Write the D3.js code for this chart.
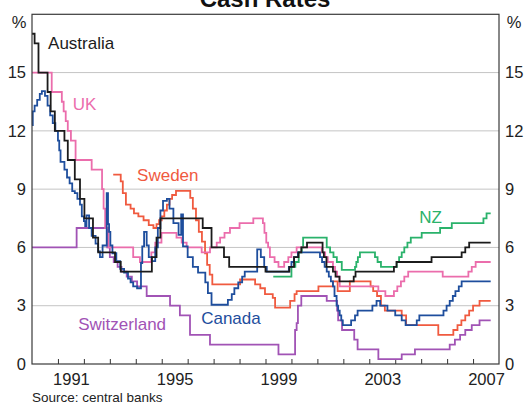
<!DOCTYPE html>
<html>
<head>
<meta charset="utf-8">
<script src="https://cdnjs.cloudflare.com/ajax/libs/d3/7.8.5/d3.min.js"></script>
<style>
  body { margin: 0; background: #fff; }
  svg { font-family: "Liberation Sans", Arial, sans-serif; display: block; }
</style>
</head>
<body>
<div id="chart"></div>
<script>
// cash rates, each entry = [decimal year, rate %] where the rate changes
const australia = [[1990.0,17.0],[1990.1,16.5],[1990.25,15],[1990.6,14],[1990.72,13],[1990.88,12],[1991.25,11.5],[1991.38,10.5],
  [1991.65,9.5],[1991.85,8.5],[1992.02,7.5],[1992.35,6.5],[1992.55,5.75],[1993.2,5.25],[1993.42,4.75],[1994.62,5.5],
  [1994.8,6.5],[1994.95,7.5],[1996.58,7.0],[1996.92,6.0],[1997.4,5.5],[1997.6,5.0],[1999.0,4.75],[1999.92,5.0],
  [2000.1,5.5],[2000.27,5.75],[2000.38,6.0],[2000.6,6.25],[2001.2,5.75],[2001.25,5.5],[2001.35,5.0],[2001.6,4.75],
  [2001.7,4.5],[2001.85,4.25],[2002.4,4.5],[2002.47,4.75],[2003.95,5.0],[2004.05,5.25],[2005.4,5.5],[2006.56,5.75],
  [2006.7,6.0],[2006.85,6.25]];

const uk = [[1990.0,15],[1990.76,14],[1991.15,13.5],[1991.22,13],[1991.3,12.5],[1991.38,12],[1991.5,11.5],[1991.68,10.5],
  [1992.3,10],[1992.7,9],[1992.76,8],[1992.82,7],[1992.95,6],[1993.9,5.5],[1994.16,5.25],[1994.6,5.75],[1994.75,6.25],
  [1994.99,6.75],[1995.57,6.5],[1995.77,6.25],[1995.96,6.0],[1996.54,5.75],[1996.86,6.0],[1997.12,6.25],[1997.25,6.5],
  [1997.42,6.75],[1997.63,7.0],[1998.0,7.25],[1998.53,7.5],[1998.9,7.25],[1998.96,6.75],[1999.03,6.25],[1999.1,6.0],
  [1999.17,5.5],[1999.35,5.25],[1999.5,5.0],[1999.72,5.25],[1999.88,5.5],[2000.0,5.75],[2000.2,6.0],[2001.17,5.75],
  [2001.3,5.5],[2001.4,5.25],[2001.6,5.0],[2001.68,4.75],[2001.76,4.5],[2001.86,4.0],[2003.35,3.75],[2003.62,3.5],
  [2003.95,3.75],[2004.08,4.0],[2004.22,4.25],[2004.35,4.5],[2004.5,4.75],[2005.83,4.5],[2006.82,4.75],[2006.95,5.0],
  [2007.1,5.25]];

const sweden = [[1993.13,9.75],[1993.42,9.4],[1993.5,8.8],[1993.62,8.2],[1993.8,8.0],[1993.93,7.75],[1994.1,7.6],
  [1994.3,7.4],[1994.5,7.15],[1994.68,7.0],[1994.8,7.2],[1994.9,7.4],[1995.0,7.6],[1995.1,7.9],[1995.2,8.2],[1995.3,8.5],
  [1995.4,8.7],[1995.55,8.91],[1996.1,8.55],[1996.2,8.0],[1996.32,7.4],[1996.43,6.8],[1996.55,6.3],[1996.67,5.7],
  [1996.75,5.1],[1996.85,4.6],[1996.95,4.1],[1998.02,4.35],[1998.6,4.1],[1998.8,3.9],[1998.98,3.6],[1999.28,3.4],
  [1999.37,2.9],[1999.95,3.25],[2000.12,3.6],[2000.2,3.75],[2001.04,4.0],[2001.6,4.25],[2001.78,3.75],[2002.25,4.25],
  [2003.05,4.0],[2003.15,3.75],[2003.3,3.5],[2003.45,3.0],[2003.6,2.75],[2004.25,2.5],[2004.42,2.0],[2005.66,1.5],
  [2006.24,1.75],[2006.4,2.0],[2006.55,2.25],[2006.7,2.5],[2006.85,2.75],[2007.0,3.0],[2007.25,3.25]];

const nz = [[1999.3,4.5],[2000.0,5.0],[2000.15,5.25],[2000.28,5.75],[2000.4,6.0],[2000.45,6.5],[2001.36,6.0],
  [2001.49,5.75],[2001.62,5.5],[2001.75,5.25],[2001.94,4.85],[2002.45,5.0],[2002.5,5.25],[2002.56,5.5],[2002.64,5.75],
  [2003.22,5.5],[2003.32,5.25],[2003.45,5.0],[2004.06,5.25],[2004.15,5.5],[2004.25,5.75],[2004.35,6.0],[2004.47,6.25],
  [2004.6,6.5],[2005.02,6.75],[2005.73,7.0],[2006.18,7.25],[2007.4,7.5],[2007.52,7.75]];

const canada = [[1990.0,12.3],[1990.03,13.0],[1990.1,13.3],[1990.2,13.6],[1990.3,13.9],[1990.38,14.05],[1990.5,13.8],
  [1990.6,13.3],[1990.7,12.8],[1990.8,12.4],[1990.9,12.0],[1991.0,11.5],[1991.05,11.0],[1991.1,10.4],[1991.25,10.0],
  [1991.35,9.6],[1991.45,9.3],[1991.55,8.9],[1991.65,8.8],[1991.75,8.5],[1991.85,8.2],[1991.92,7.6],[1992.0,7.35],
  [1992.05,7.1],[1992.1,7.65],[1992.2,7.0],[1992.3,6.6],[1992.45,6.2],[1992.55,5.8],[1992.62,5.5],[1992.72,6.1],
  [1992.88,8.8],[1992.93,7.2],[1992.97,6.8],[1993.02,6.1],[1993.1,5.7],[1993.25,5.3],[1993.4,4.9],[1993.55,4.7],
  [1993.7,4.4],[1993.8,4.2],[1993.9,4.0],[1994.05,3.9],[1994.2,5.2],[1994.25,6.05],[1994.32,6.8],[1994.42,6.1],
  [1994.5,5.5],[1994.62,5.3],[1994.75,6.0],[1994.85,7.0],[1994.95,7.9],[1995.05,8.4],[1995.2,8.5],[1995.3,8.0],
  [1995.45,7.25],[1995.65,6.65],[1995.75,7.7],[1995.82,6.05],[1996.0,5.5],[1996.2,5.0],[1996.4,4.7],[1996.68,4.2],
  [1996.78,3.65],[1996.92,3.05],[1997.55,3.3],[1997.7,3.6],[1997.8,3.9],[1997.95,4.2],[1998.1,4.5],[1998.2,4.75],
  [1998.68,5.9],[1998.82,5.5],[1998.95,5.0],[1999.05,4.75],[1999.9,5.0],[2000.0,5.25],[2000.1,5.5],[2000.25,5.75],
  [2001.1,5.5],[2001.18,5.25],[2001.28,5.0],[2001.36,4.75],[2001.44,4.5],[2001.52,4.25],[2001.6,4.0],[2001.66,3.5],
  [2001.74,3.0],[2001.8,2.75],[2001.86,2.5],[2001.92,2.25],[2001.98,2.0],[2002.3,2.25],[2002.45,2.5],[2002.55,2.75],
  [2003.12,3.0],[2003.28,3.25],[2003.42,3.0],[2003.7,2.75],[2004.0,2.5],[2004.25,2.25],[2004.4,2.0],[2004.83,2.25],
  [2004.93,2.5],[2005.86,2.75],[2005.98,3.0],[2006.1,3.25],[2006.22,3.5],[2006.32,3.75],[2006.45,4.0],[2006.56,4.25]];

const switzerland = [[1990.0,6.0],[1991.72,7.0],[1992.9,6.0],[1993.0,5.5],[1993.15,5.25],[1993.3,5.0],[1993.45,4.75],
  [1993.65,4.5],[1993.85,4.25],[1994.05,4.0],[1994.42,3.5],[1995.32,3.0],[1995.7,2.5],[1996.09,1.5],[1996.86,1.0],
  [1999.5,0.5],[2000.14,1.75],[2000.2,2.1],[2000.25,3.0],[2000.38,3.5],[2001.36,3.25],[2001.76,2.75],[2001.8,2.25],
  [2001.95,1.75],[2002.42,1.25],[2002.55,0.75],[2003.35,0.25],[2004.25,0.5],[2004.76,0.75],[2006.1,1.0],[2006.3,1.25],
  [2006.5,1.5],[2006.7,1.75],[2006.95,2.0],[2007.25,2.25]];

const lastDate = 2007.68;
const yTicks = [0, 3, 6, 9, 12, 15];
const yearTicks = d3.range(1991, 2008);
const yearLabels = [1991, 1995, 1999, 2003, 2007];

// drawing order: last one on top
const seriesNames = ["Switzerland", "NZ", "Sweden", "UK", "Canada", "Australia"];
const seriesValues = [switzerland, nz, sweden, uk, canada, australia];
const seriesColors = ["#a153b5", "#2ab26b", "#f05a3f", "#eb6dac", "#1e4e9d", "#1b1b1b"];
// where each name sits, in data units (year, %)
const labelAt = [[1991.78, 1.75], [2004.93, 7.26], [1994.05, 9.44], [1991.57, 13.07], [1996.52, 2.06], [1990.62, 16.21]];

let width = 530, height = 405;
let margin = { top: 14.3, left: 32, right: 31, bottom: 41 };
let innerW = width - margin.left - margin.right;
let innerH = height - margin.top - margin.bottom;

let x = d3.scaleLinear().domain([1990, 2008]).range([0, innerW]);
let y = d3.scaleLinear().domain([0, 18]).range([innerH, 0]);

let svg = d3.select("#chart").append("svg")
  .attr("width", width)
  .attr("height", height);

// title sits mostly above the visible area, as in the original
svg.append("text")
  .attr("x", 265).attr("y", 6.5)
  .attr("text-anchor", "middle")
  .style("font-size", "24px").style("font-weight", "bold").style("fill", "#111")
  .text("Cash Rates");

let g = svg.append("g")
  .attr("transform", "translate(" + margin.left + "," + margin.top + ")");

// gridlines
g.selectAll(".grid").data(yTicks.filter(d => d > 0)).enter()
  .append("line")
  .attr("class", "grid")
  .attr("x1", 0).attr("x2", innerW)
  .attr("y1", d => y(d)).attr("y2", d => y(d))
  .style("stroke", "#c4c4c4").style("stroke-width", 1);

// left and right tick labels
let yAxisL = d3.axisLeft(y).tickValues(yTicks).tickSize(0).tickPadding(6);
let yAxisR = d3.axisRight(y).tickValues(yTicks).tickSize(0).tickPadding(6);
g.append("g").attr("class", "y-left").call(yAxisL);
g.append("g").attr("class", "y-right").attr("transform", "translate(" + innerW + ",0)").call(yAxisR);
g.selectAll(".y-left .domain, .y-right .domain").remove();
g.selectAll(".y-left text, .y-right text")
  .style("font-size", "16.5px").style("fill", "#222").style("font-family", "Liberation Sans, Arial, sans-serif");

// x ticks pointing up into the plot
let xAxis = d3.axisBottom(x).tickValues(yearTicks).tickSize(-5).tickFormat("");
g.append("g").attr("class", "x-axis")
  .attr("transform", "translate(0," + innerH + ")")
  .call(xAxis);
g.select(".x-axis .domain").remove();
g.selectAll(".x-axis line").style("stroke", "#333");

// year labels sit in the middle of each year
let xLabels = d3.axisBottom(x).tickValues(yearLabels.map(d => d + 0.5)).tickSize(0).tickPadding(9)
  .tickFormat(d => Math.floor(d));
g.append("g").attr("class", "x-labels")
  .attr("transform", "translate(0," + innerH + ")")
  .call(xLabels);
g.select(".x-labels .domain").remove();
g.selectAll(".x-labels text")
  .style("font-size", "16.5px").style("fill", "#222").style("font-family", "Liberation Sans, Arial, sans-serif");

// series lines
let line = d3.line()
  .curve(d3.curveStepAfter)
  .x(d => x(d[0]))
  .y(d => y(d[1]));

g.selectAll(".series").data(seriesValues).enter()
  .append("path")
  .attr("class", "series")
  .attr("d", d => line(d.concat([[lastDate, d[d.length - 1][1]]])))
  .style("fill", "none")
  .style("stroke", (d, i) => seriesColors[i])
  .style("stroke-width", 1.8)
  .style("stroke-linejoin", "miter");

// frame
g.append("rect")
  .attr("x", 0).attr("y", 0)
  .attr("width", innerW).attr("height", innerH)
  .style("fill", "none").style("stroke", "#3a3a3a").style("stroke-width", 1.2);

// series names
g.selectAll(".name").data(seriesNames).enter()
  .append("text")
  .attr("class", "name")
  .attr("x", (d, i) => x(labelAt[i][0]))
  .attr("y", (d, i) => y(labelAt[i][1]))
  .style("font-size", "17px")
  .style("fill", (d, i) => seriesColors[i])
  .text(d => d);

// % units
svg.append("text").attr("x", 19).attr("y", 28).attr("text-anchor", "middle")
  .style("font-size", "16.5px").style("fill", "#222").text("%");
svg.append("text").attr("x", 514).attr("y", 28).attr("text-anchor", "middle")
  .style("font-size", "16.5px").style("fill", "#222").text("%");

svg.append("text").attr("x", 32).attr("y", 401.5)
  .style("font-size", "13.5px").style("fill", "#222")
  .text("Source: central banks");
</script>
</body>
</html>
